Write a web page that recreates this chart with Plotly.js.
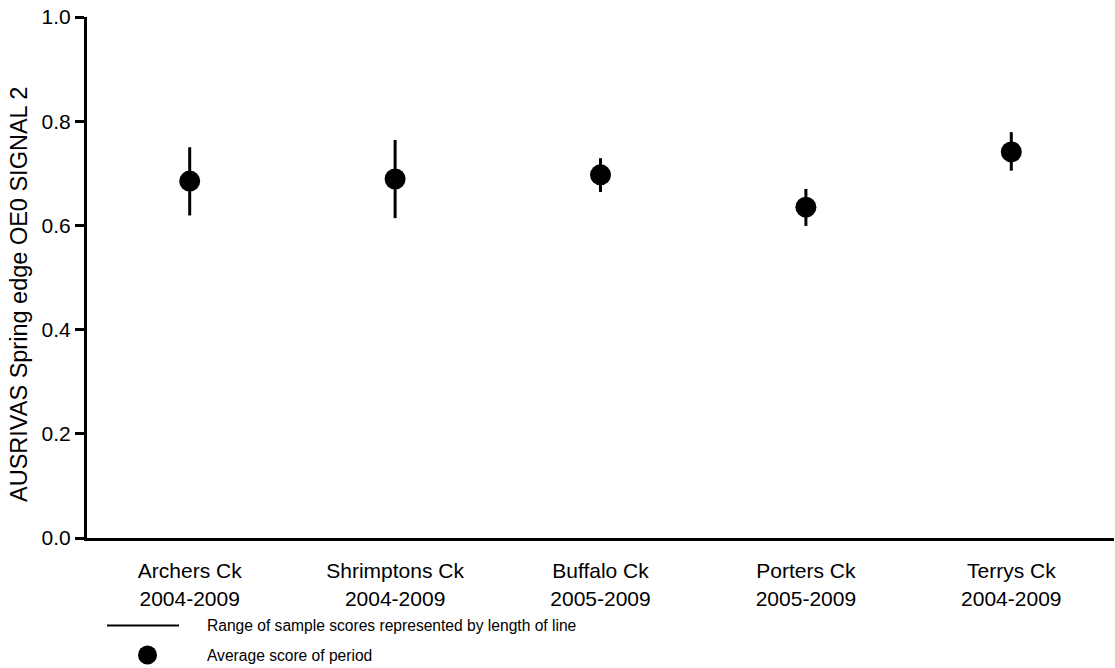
<!DOCTYPE html>
<html>
<head>
<meta charset="utf-8">
<script src="https://cdn.plot.ly/plotly-3.0.1.min.js"></script>
<style>html,body{margin:0;padding:0;background:#fff;}#chart{width:1115px;height:668px;}</style>
</head>
<body>
<div id="chart"></div>
<script>
const sites = ["Archers Ck", "Shrimptons Ck", "Buffalo Ck", "Porters Ck", "Terrys Ck"];
const periods = ["2004-2009", "2004-2009", "2005-2009", "2005-2009", "2004-2009"];
const meanScore = [0.685, 0.689, 0.697, 0.635, 0.741];
const maxScore = [0.750, 0.764, 0.729, 0.670, 0.779];
const minScore = [0.619, 0.614, 0.664, 0.599, 0.705];
const yTitle = "AUSRIVAS Spring edge OE0 SIGNAL 2";
const legendLineText = "Range of sample scores represented by length of line";
const legendDotText = "Average score of period";

const xIdx = sites.map((_, i) => i);
const tickText = sites.map((s, i) => s + "<br>" + periods[i]);

const FONT = "Liberation Sans, Arial, Helvetica, sans-serif";

const trace = {
  type: "scatter",
  mode: "markers",
  x: xIdx,
  y: meanScore,
  marker: {size: 21, color: "#000", symbol: "circle"},
  error_y: {
    type: "data",
    symmetric: false,
    array: maxScore.map((v, i) => v - meanScore[i]),
    arrayminus: meanScore.map((v, i) => v - minScore[i]),
    width: 0,
    thickness: 3,
    color: "#000"
  },
  hoverinfo: "skip",
  showlegend: false
};

// legend drawn below the plot (pixel positions converted to paper units)
const L = 87, R = 1, T = 17, B = 130;
const W = 1115 - L - R, H = 668 - T - B;
const px = v => (v - L) / W;
const py = v => (668 - B - v) / H;

const layout = {
  width: 1115, height: 668,
  margin: {l: L, r: R, t: T, b: B, pad: 0},
  paper_bgcolor: "#fff", plot_bgcolor: "#fff",
  font: {family: FONT, color: "#000"},
  showlegend: false,
  xaxis: {
    range: [-0.5, 4.5],
    tickmode: "array",
    tickvals: xIdx,
    ticktext: tickText,
    ticks: "",
    showgrid: false, zeroline: false,
    showline: true, linecolor: "#000", linewidth: 3,
    tickfont: {size: 21, family: FONT, color: "#000"},
    ticklabelstandoff: 12,
    fixedrange: true
  },
  yaxis: {
    range: [0, 1.0],
    tickvals: [0, 0.2, 0.4, 0.6, 0.8, 1.0],
    ticktext: ["0.0", "0.2", "0.4", "0.6", "0.8", "1.0"],
    ticks: "outside", ticklen: 9, tickwidth: 3, tickcolor: "#000",
    showgrid: false, zeroline: false,
    showline: true, linecolor: "#000", linewidth: 3,
    tickfont: {size: 21, family: FONT, color: "#000"},
    automargin: false,
    fixedrange: true
  },
  shapes: [
    {type: "line", xref: "paper", yref: "paper", x0: px(107), x1: px(179), y0: py(625.5), y1: py(625.5), line: {color: "#000", width: 2}},
    {type: "circle", xref: "paper", yref: "paper", xsizemode: "pixel", ysizemode: "pixel",
     xanchor: px(147.5), yanchor: py(655), x0: -9.5, x1: 9.5, y0: -9.5, y1: 9.5,
     fillcolor: "#000", line: {color: "#000", width: 0}}
  ],
  annotations: [
    {xref: "paper", yref: "paper", x: px(19), y: py(295), xanchor: "center", yanchor: "middle", showarrow: false,
     textangle: -90, text: yTitle, font: {size: 23.5, family: FONT, color: "#000"}},
    {xref: "paper", yref: "paper", x: px(205), y: py(625.5), xanchor: "left", yanchor: "middle", showarrow: false,
     text: legendLineText, font: {size: 15.6, family: FONT, color: "#000"}},
    {xref: "paper", yref: "paper", x: px(205), y: py(655), xanchor: "left", yanchor: "middle", showarrow: false,
     text: legendDotText, font: {size: 15.6, family: FONT, color: "#000"}}
  ]
};

Plotly.newPlot("chart", [trace], layout, {displayModeBar: false, staticPlot: true});
</script>
</body>
</html>
